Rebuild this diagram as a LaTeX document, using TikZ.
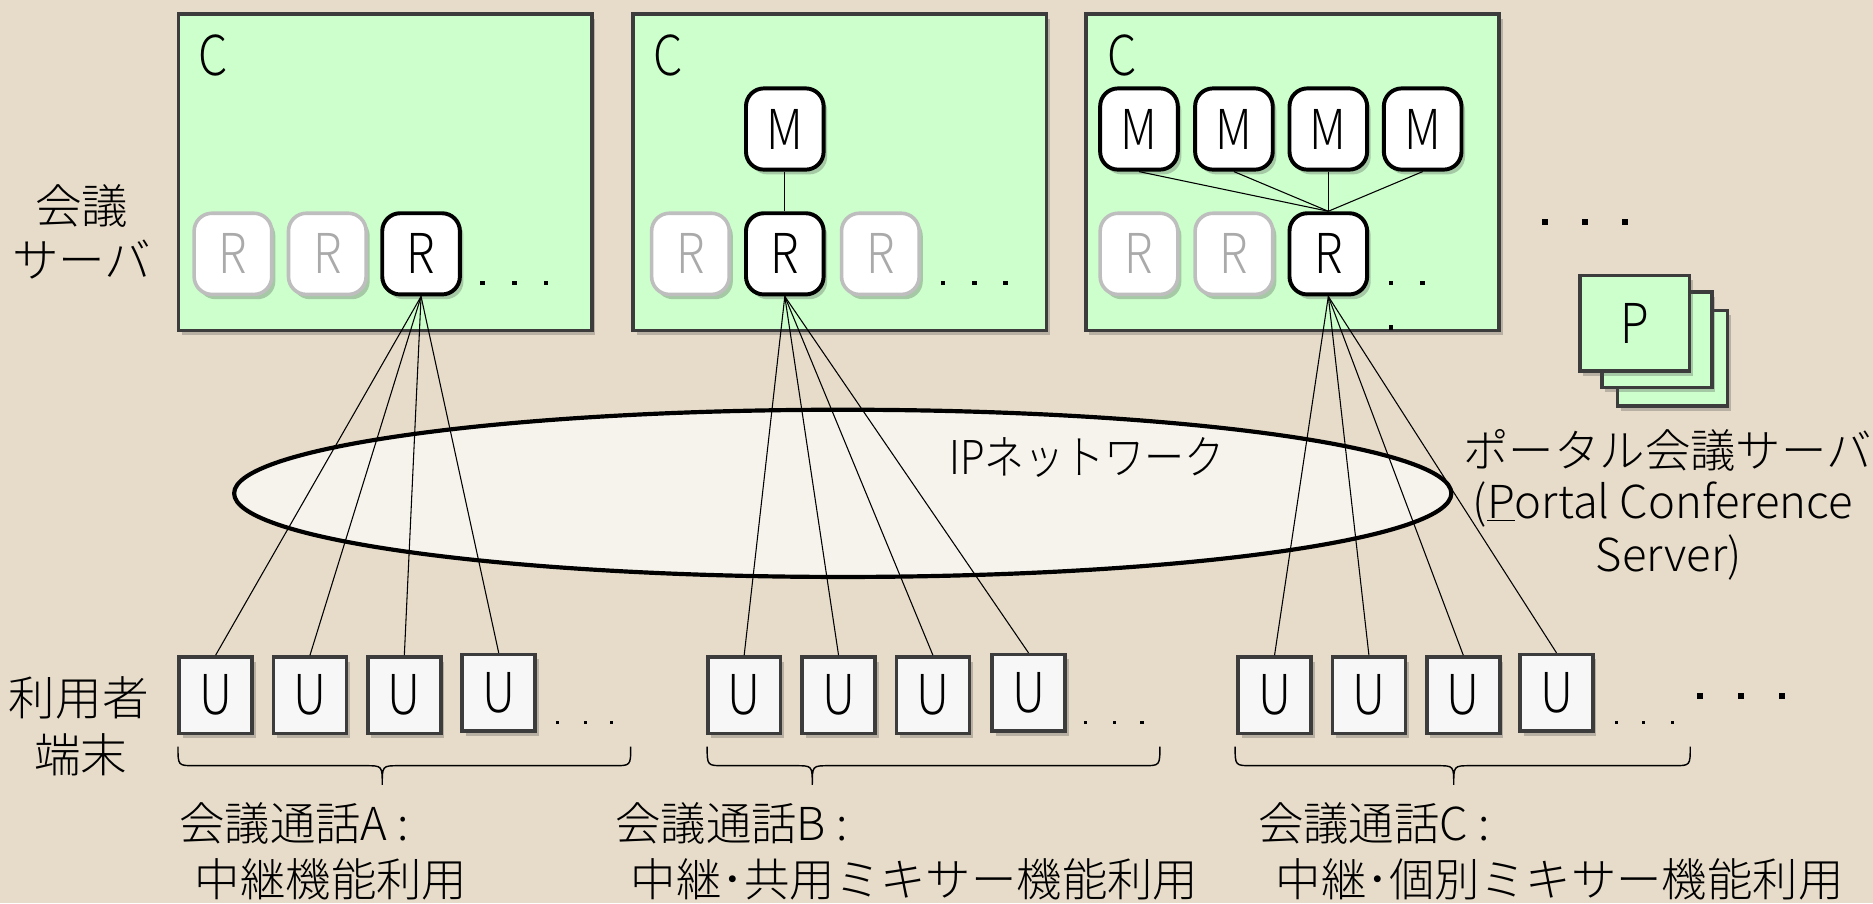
\documentclass[tikz,border=0pt]{standalone}
\usepackage{fontspec}
\setmainfont{Noto Sans CJK JP Light}
\newfontfamily\condfont{Noto Sans CJK JP Light}[FakeStretch=0.86]
\newfontfamily\letfont{Noto Sans CJK JP Light}[FakeStretch=0.85]
\usetikzlibrary{shadows,shapes.geometric}
\definecolor{bg}{RGB}{231,220,201}
\definecolor{srvgreen}{RGB}{204,255,204}
\definecolor{boxline}{RGB}{60,60,60}
\definecolor{dimline}{RGB}{190,190,190}
\definecolor{dimtext}{RGB}{170,170,170}
\definecolor{ufill}{RGB}{247,247,247}
\definecolor{ellfill}{RGB}{248,246,240}
\begin{document}
\begin{tikzpicture}[x=1pt,y=-1pt,
  shadowed/.style={drop shadow={shadow xshift=3pt,shadow yshift=-4pt,opacity=0.3,fill=black!70}},
  server/.style={rectangle,draw=boxline,line width=3pt,fill=srvgreen,minimum width=346pt,minimum height=265pt,inner sep=0pt,shadowed},
  func/.style={rectangle,rounded corners=15pt,minimum width=65pt,minimum height=68pt,inner sep=0pt,fill=white,draw=black,line width=3.3pt,font=\letfont\fontsize{46}{46}\selectfont,shadowed},
  dimfunc/.style={func,draw=dimline,text=dimtext,line width=3pt},
  user/.style={rectangle,minimum width=61pt,minimum height=64pt,inner sep=0pt,fill=ufill,draw=boxline,line width=3pt,font=\letfont\fontsize{46}{46}\selectfont,shadowed},
  portal/.style={rectangle,minimum width=92pt,minimum height=80pt,inner sep=0pt,fill=srvgreen,draw=boxline,line width=3pt,font=\letfont\fontsize{46}{46}\selectfont,shadowed},
  clabel/.style={inner sep=0pt,font=\letfont\fontsize{46}{46}\selectfont},
  jp/.style={font=\fontsize{38}{38}\selectfont,inner sep=0pt},
  side/.style={font=\fontsize{39}{39}\selectfont,inner sep=0pt},
  link/.style={line width=0.9pt,black},
  brace/.style={line width=1.2pt,black},
]
\fill[bg] (0,0) rectangle (1568,756);
\useasboundingbox (0,0) rectangle (1568,756);

% network ellipse
\node[ellipse,draw=black,line width=3.5pt,fill=ellfill,fill opacity=0.9,minimum width=1019pt,minimum height=140pt,inner sep=0pt] (net) at (705.5,413) {};
\node[inner sep=0pt,font=\condfont\fontsize{39}{39}\selectfont] (netlabel) at (910,383) {IPネットワーク};

% server boxes
\node[server] (srvA) at (322.5,144) {};
\node[server] (srvB) at (703,144) {};
\node[server] (srvC) at (1082,144) {};
\node[clabel] (cA) at (178.5,46.5) {C};
\node[clabel] (cB) at (559,46.5) {C};
\node[clabel] (cC) at (939,46.5) {C};

% box A
\node[dimfunc] (rA1) at (195,212.5) {R};
\node[dimfunc] (rA2) at (274,212.5) {R};
\node[func] (rA3) at (352.5,212.5) {R};
% box B
\node[func] (mB) at (657,108) {M};
\node[dimfunc] (rB1) at (578,212.5) {R};
\node[func] (rB2) at (657,212.5) {R};
\node[dimfunc] (rB3) at (737,212.5) {R};
% box C
\node[func] (mC1) at (953.5,108) {M};
\node[func] (mC2) at (1033,108) {M};
\node[func] (mC3) at (1112,108) {M};
\node[func] (mC4) at (1191,108) {M};
\node[dimfunc] (rC1) at (953.5,212.5) {R};
\node[dimfunc] (rC2) at (1033,212.5) {R};
\node[func] (rC3) at (1112,212.5) {R};

\draw[link] (mB.south) -- (rB2.north);
\foreach \m in {mC1,mC2,mC3,mC4} \draw[link] (\m.south) -- (rC3.north);

% dots in boxes
\foreach \x in {404,431,457} \fill (\x-2,235) rectangle ++(4,4);
\foreach \x in {789.5,816,842} \fill (\x-2,235) rectangle ++(4,4);
\foreach \x in {1164.5,1191} \fill (\x-2,235) rectangle ++(4,4);
\fill (1162.5,272) rectangle ++(4,4);
\foreach \x in {1293,1327,1360} \fill (\x-2.5,183.5) rectangle ++(5,5);

% portal servers
\node[portal] (p3) at (1400,300) {};
\node[portal] (p2) at (1387,284.5) {};
\node[portal] (p1) at (1368.5,270.5) {P};
\node[jp] (plabel1) at (1396,377) {ポータル会議サーバ};
\node[jp] (plabel2) at (1392,422) {(\underline{P}ortal Conference};
\node[jp] (plabel3) at (1397,467) {Server)};

% side labels
\node[side] (lbl1) at (68.5,172.5) {会議};
\node[side] (lbl2) at (68.5,217) {サーバ};
\node[side] (lbl3) at (66,584) {利用者};
\node[side] (lbl4) at (67.5,632) {端末};

% user terminals
\node[user] (uA1) at (180.5,582) {U};
\node[user] (uA2) at (259.5,582) {U};
\node[user] (uA3) at (338.5,582) {U};
\node[user] (uA4) at (417.5,580) {U};
\node[user] (uB1) at (623,582) {U};
\node[user] (uB2) at (702,582) {U};
\node[user] (uB3) at (781,582) {U};
\node[user] (uB4) at (861,580) {U};
\node[user] (uC1) at (1067,582) {U};
\node[user] (uC2) at (1146,582) {U};
\node[user] (uC3) at (1225,582) {U};
\node[user] (uC4) at (1303,580) {U};

\foreach \u in {uA1,uA2,uA3,uA4} \draw[link] (rA3.south) -- (\u.north);
\foreach \u in {uB1,uB2,uB3,uB4} \draw[link] (rB2.south) -- (\u.north);
\foreach \u in {uC1,uC2,uC3,uC4} \draw[link] (rC3.south) -- (\u.north);

% small dots after terminals
\foreach \x in {467,490,512,909,933,956,1353,1376,1400} \fill (\x-1.3,603.7) rectangle ++(2.6,2.6);
\foreach \x in {1423,1457.5,1492} \fill (\x-2.5,580.5) rectangle ++(5,5);

% braces
\foreach \xa/\xb/\tip in {149/528/320,592/971/680,1034/1415/1217}{
  \draw[brace] (\xa,625) .. controls (\xa,641) and (\xa,641) .. (\xa+14,641) -- (\tip-14,641)
    .. controls (\tip,641) and (\tip,641) .. (\tip,657)
    .. controls (\tip,641) and (\tip,641) .. (\tip+14,641) -- (\xb-14,641)
    .. controls (\xb,641) and (\xb,641) .. (\xb,625);
}

% conference labels
\node[jp,anchor=west] (cfA1) at (150,689) {会議通話A :};
\node[jp,anchor=west] (cfA2) at (163,736) {中継機能利用};
\node[jp,anchor=west] (cfB1) at (515,689) {会議通話B :};
\node[jp,anchor=west] (cfB2) at (528,736) {中継･共用ミキサー機能利用};
\node[jp,anchor=west] (cfC1) at (1053,689) {会議通話C :};
\node[jp,anchor=west] (cfC2) at (1068,736) {中継･個別ミキサー機能利用};
\end{tikzpicture}
\end{document}
